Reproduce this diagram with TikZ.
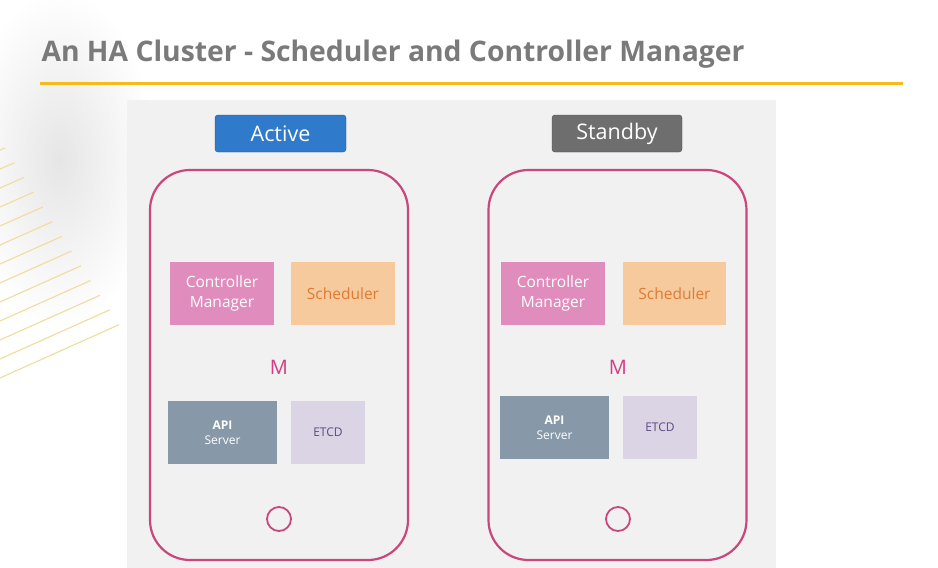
\documentclass[tikz,border=0pt]{standalone}
\usepackage{xcolor}
\usepackage{fontspec}
\setmainfont{Open Sans}
\usepackage{tikz}

\definecolor{titlegray}{HTML}{7A7A7A}
\definecolor{ruleyellow}{HTML}{F5BA1C}
\definecolor{panelgray}{HTML}{F1F1F1}
\definecolor{phonered}{HTML}{C9477C}
\definecolor{activeblue}{HTML}{2F7ACB}
\definecolor{standbygray}{HTML}{6E6E6E}
\definecolor{cmpink}{HTML}{E08DBD}
\definecolor{schedorange}{HTML}{F6CA9C}
\definecolor{schedtext}{HTML}{E07A33}
\definecolor{apislate}{HTML}{8798A8}
\definecolor{etcdlilac}{HTML}{DBD4E5}
\definecolor{etcdtext}{HTML}{5B4B85}
\definecolor{mpink}{HTML}{D63C82}
\definecolor{stripe}{HTML}{F1DC9C}

\begin{document}
\begin{tikzpicture}[x=1pt, y=-1pt,
    phone/.style={draw=phonered, line width=2.2pt, rounded corners=40pt, minimum width=258pt, minimum height=390pt, inner sep=0pt},
    tag/.style={rounded corners=3pt, minimum height=37pt, inner sep=0pt, text=white, font=\fontsize{21.5}{24}\selectfont},
    comp/.style={minimum height=63pt, inner sep=0pt, align=center, font=\fontsize{15.5}{20}\selectfont},
    small/.style={font=\fontsize{12}{15}\selectfont},
    master/.style={text=mpink, font=\fontsize{20}{22}\selectfont},
    button/.style={draw=phonered, line width=1.8pt, circle, minimum size=24pt, inner sep=0pt}]
        \useasboundingbox (0, 0) rectangle (938, 568);
        \fill[white] (0, 0) rectangle (938, 568);
        % smoky corner and stripes
        \shade[inner color=gray!20, outer color=white] (60, 160) ellipse (95 and 170);
        \foreach \i in {0,...,12}
            \draw[stripe, line width=1.1pt] (0, 150 + 19*\i) -- (5 + 9.5*\i, 150 + 19*\i - 0.45*9.5*\i - 2);
        % title
        \node[anchor=base west, text=titlegray, font=\fontsize{28.3}{32}\selectfont\bfseries] at (38, 61) (title) {An HA Cluster - Scheduler and Controller Manager};
        \draw[ruleyellow, line width=3pt] (40, 83) -- (903, 83);
        \fill[panelgray] (127, 100) rectangle (776, 568);
        % active master
        \node[tag, fill=activeblue, draw=activeblue!70!black, minimum width=131pt] at (280.5, 133.5) (active) {Active};
        \node[phone] at (279, 365) (phoneA) {};
        \node[comp, fill=cmpink, text=white, minimum width=104pt] at (222, 293.5) (cmA) {Controller\\Manager};
        \node[comp, fill=schedorange, text=schedtext, minimum width=104pt] at (343, 293.5) (schedA) {Scheduler};
        \node[master] at (279, 367) (mA) {M};
        \node[comp, small, fill=apislate, text=white, minimum width=109pt] at (222.5, 432.5) (apiA) {\textbf{API}\\Server};
        \node[comp, small, fill=etcdlilac, text=etcdtext, minimum width=74pt] at (328, 432.5) (etcdA) {ETCD};
        \node[button] at (279, 519) (btnA) {};
        % standby master
        \node[tag, fill=standbygray, draw=standbygray!70!black, minimum width=130pt] at (617, 133.5) (standby) {Standby};
        \node[phone] at (617.5, 365) (phoneB) {};
        \node[comp, fill=cmpink, text=white, minimum width=104pt] at (553, 293.5) (cmB) {Controller\\Manager};
        \node[comp, fill=schedorange, text=schedtext, minimum width=103pt] at (674.5, 293.5) (schedB) {Scheduler};
        \node[master] at (618, 367) (mB) {M};
        \node[comp, small, fill=apislate, text=white, minimum width=109pt] at (554.5, 427.5) (apiB) {\textbf{API}\\Server};
        \node[comp, small, fill=etcdlilac, text=etcdtext, minimum width=74pt] at (660, 427.5) (etcdB) {ETCD};
        \node[button] at (618, 519) (btnB) {};
    \end{tikzpicture}
\end{document}
